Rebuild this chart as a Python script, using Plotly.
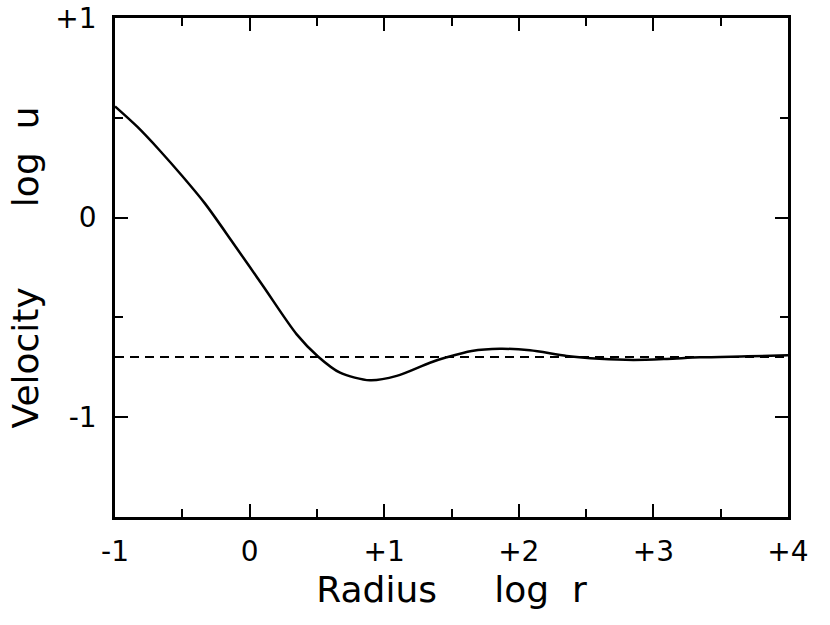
import plotly.graph_objects as go

# Data
log_r = [-1.0, -0.833, -0.666, -0.499, -0.331, -0.123, 0.100, 0.35, 0.51, 0.672,
         0.894, 1.093, 1.34, 1.464, 1.65, 1.86, 2.083, 2.356, 2.60, 2.851,
         3.10, 3.346, 3.70, 4.0]
log_u = [0.557, 0.454, 0.335, 0.207, 0.07, -0.127, -0.343, -0.585, -0.697, -0.777,
         -0.815, -0.793, -0.727, -0.70, -0.668, -0.657, -0.665, -0.693, -0.707, -0.713,
         -0.708, -0.70, -0.695, -0.69]
asymptote_x = [-1.0, 4.0]
asymptote_y = [-0.699, -0.699]

x_tickvals = [-1, 0, 1, 2, 3, 4]
x_ticktext = ["-1", "0", "+1", "+2", "+3", "+4"]
y_tickvals = [-1, 0, 1]
y_ticktext = ["-1", "0", "+1"]

NB = "\u00a0"
x_title = "Radius" + NB * 5 + "log" + NB * 2 + "r"
y_title = NB * 4 + "Velocity" + NB * 7 + "log" + NB * 2 + "u"

fig = go.Figure()
fig.add_trace(go.Scatter(x=asymptote_x, y=asymptote_y, mode="lines",
                         line=dict(color="black", width=2, dash="9px,6px"),
                         showlegend=False))
fig.add_trace(go.Scatter(x=log_r, y=log_u, mode="lines", line_shape="spline",
                         line=dict(color="black", width=2.5, smoothing=0.8),
                         showlegend=False))

font_family = "DejaVu Sans"
axis_common = dict(showgrid=False, zeroline=False, showline=True, linecolor="black",
                   linewidth=2.5, mirror="ticks", ticks="inside", ticklen=13,
                   tickwidth=2, tickcolor="black", automargin=False,
                   ticklabeloverflow="allow",
                   tickfont=dict(family=font_family, size=28, color="black"))

fig.update_xaxes(range=[-1, 4], tickvals=x_tickvals, ticktext=x_ticktext,
                 title=dict(text=x_title, font=dict(family=font_family, size=36, color="black"),
                            standoff=10),
                 minor=dict(dtick=0.5, tick0=0, ticks="inside", ticklen=8, tickwidth=2,
                            tickcolor="black", showgrid=False),
                 ticklabelstandoff=8,
                 **axis_common)
fig.update_yaxes(range=[-1.5, 1], tickvals=y_tickvals, ticktext=y_ticktext,
                 title=dict(text=y_title, font=dict(family=font_family, size=36, color="black"),
                            standoff=6),
                 minor=dict(dtick=0.5, tick0=0, ticks="inside", ticklen=8, tickwidth=2,
                            tickcolor="black", showgrid=False),
                 ticklabelstandoff=10,
                 **axis_common)

fig.update_layout(width=830, height=625, plot_bgcolor="white", paper_bgcolor="white",
                  margin=dict(l=115, r=42, t=18, b=108), showlegend=False)

# remove the default 8px page margin so the figure fills the window exactly
fig.write_html("out.html", config={"displayModeBar": False},
               post_script="document.body.style.margin='0px';")
